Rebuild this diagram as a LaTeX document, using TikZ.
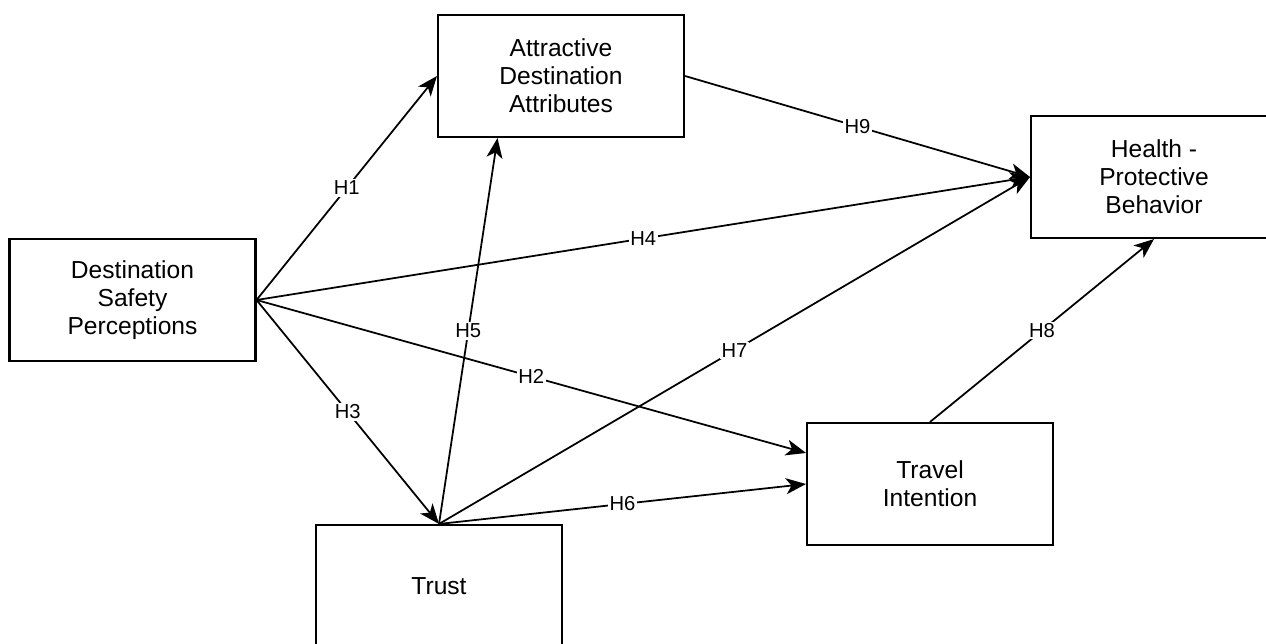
\documentclass[tikz,border=0pt]{standalone}
\usepackage{fontspec}
\setmainfont{Liberation Sans}
\usepackage{tikz}
\usetikzlibrary{positioning,calc,arrows.meta}

\begin{document}
\begin{tikzpicture}[x=0.02cm, y=-0.02cm,
  box/.style={draw, line width=1.2pt, minimum width=4.92cm, minimum height=2.44cm, align=center, font=\fontsize{14}{16}\selectfont},
  link/.style={line width=1pt, -{Stealth[length=4mm, width=3.2mm, inset=1.1mm]}},
  hyp/.style={midway, fill=white, inner sep=1pt, font=\fontsize{11.5}{13}\selectfont}]
\clip (0,0) rectangle (1266,644);
\node[box] (ada) at (561,76) {Attractive\\ Destination\\ Attributes};
\node[box] (hpb) at (1154,177) {Health -\\ Protective\\ Behavior};
\node[box] (dsp) at (132.5,300) {Destination\\ Safety\\ Perceptions};
\node[box] (ti) at (930,484) {Travel\\ Intention};
\node[box] (trust) at (439,586) {Trust};
\draw[link] (dsp.east) -- node[hyp] {H1} (ada.west);
\draw[link] (dsp.east) -- node[hyp] {H4} (hpb.west);
\draw[link] (dsp.east) -- node[hyp] {H2} ($(ti.west)!0.5!(ti.north west)$);
\draw[link] (dsp.east) -- node[hyp] {H3} (trust.north);
\draw[link] (trust.north) -- node[hyp] {H5} ($(ada.south west)!0.244!(ada.south east)$);
\draw[link] (trust.north) -- node[hyp] {H6} (ti.west);
\draw[link] (trust.north) -- node[hyp] {H7} (hpb.west);
\draw[link] (ada.east) -- node[hyp] {H9} (hpb.west);
\draw[link] (ti.north) -- node[hyp] {H8} (hpb.south);
\end{tikzpicture}
\end{document}
